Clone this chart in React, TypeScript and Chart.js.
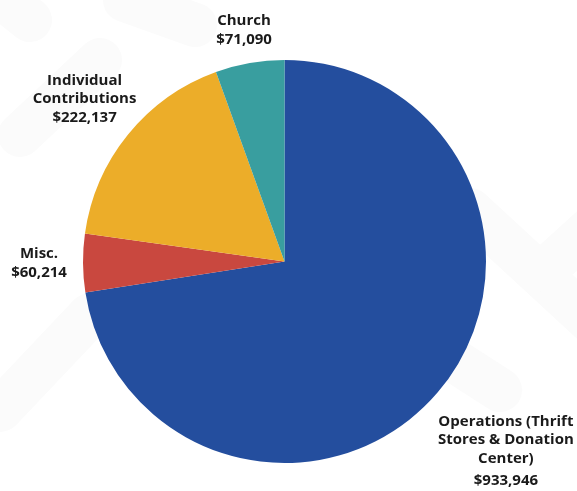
import React, { useEffect, useRef } from "react";
import { Chart, registerables } from "chart.js";

Chart.register(...registerables);

const categories = ["Operations (Thrift Stores & Donation Center)", "Misc.", "Individual Contributions", "Church"];
const labelLines = [["Operations (Thrift", "Stores & Donation", "Center)"], ["Misc."], ["Individual", "Contributions"], ["Church"]];
const values = [933946, 60214, 222137, 71090];
const valueLabels = ["$933,946", "$60,214", "$222,137", "$71,090"];
const colors = ["#244E9E", "#C9483F", "#ECAD29", "#399E9F"];

const labelDistance = [90, 44, 56, 33];
const valueGap = [22, 19, 19, 19];
const LINE_H = 18.7;
const FONT = "bold 15px 'Open Sans', 'DejaVu Sans', sans-serif";

const watermarkPlugin = {
  id: "watermark",
  beforeDraw(chart: any) {
    const ctx = chart.ctx;
    ctx.save();
    ctx.fillStyle = "#ffffff";
    ctx.fillRect(0, 0, chart.width, chart.height);
    ctx.strokeStyle = "#fbfbfb";
    ctx.lineCap = "round";
    ctx.lineWidth = 44;
    const segs = [
      [-20, -20, 30, 20],
      [20, 135, 100, 60],
      [125, 0, 195, 25],
      [0, 410, 90, 315],
      [470, 210, 600, 330],
      [545, 270, 600, 220],
      [430, 345, 500, 390],
    ];
    for (const s of segs) {
      ctx.beginPath();
      ctx.moveTo(s[0], s[1]);
      ctx.lineTo(s[2], s[3]);
      ctx.stroke();
    }
    ctx.restore();
  },
};

const labelPlugin = {
  id: "outerLabels",
  afterDatasetsDraw(chart: any) {
    const ctx = chart.ctx;
    const meta = chart.getDatasetMeta(0);
    ctx.save();
    ctx.font = FONT;
    ctx.fillStyle = "#1a1a1a";
    ctx.textAlign = "center";
    ctx.textBaseline = "middle";
    meta.data.forEach((arc: any, i: number) => {
      const p = arc.getProps(["x", "y", "startAngle", "endAngle", "outerRadius"], true);
      const mid = (p.startAngle + p.endAngle) / 2;
      const d = p.outerRadius + labelDistance[i];
      const cx = p.x + Math.cos(mid) * d;
      const cy = p.y + Math.sin(mid) * d;
      const lines = labelLines[i];
      const total = (lines.length - 1) * LINE_H + valueGap[i];
      let y = cy - total / 2;
      lines.forEach((t) => {
        ctx.fillText(t, cx, y);
        y += LINE_H;
      });
      y += valueGap[i] - LINE_H;
      ctx.fillText(valueLabels[i], cx, y);
    });
    ctx.restore();
  },
};

export default function App() {
  const ref = useRef<HTMLCanvasElement>(null);
  useEffect(() => {
    document.body.style.margin = "0";
    const chart = new Chart(ref.current!, {
      type: "pie",
      data: {
        labels: categories,
        datasets: [
          {
            data: values,
            backgroundColor: colors,
            borderColor: "#ffffff",
            borderWidth: 0,
          },
        ],
      },
      options: {
        responsive: false,
        animation: false,
        layout: { padding: { top: 60, bottom: 28, left: 0, right: 8 } },
        plugins: { legend: { display: false }, tooltip: { enabled: false } },
      },
      plugins: [watermarkPlugin, labelPlugin],
    });
    return () => chart.destroy();
  }, []);
  return (
    <div style={{ position: "fixed", left: 0, top: 0, width: 577, height: 491, background: "#fff" }}>
      <canvas ref={ref} width={577} height={491} style={{ width: 577, height: 491 }} />
    </div>
  );
}
